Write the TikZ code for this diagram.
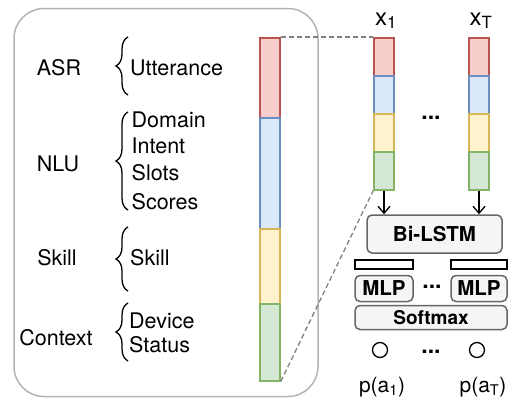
\documentclass[tikz,border=0pt]{standalone}
\usepackage{fontspec}
\setmainfont{TeX Gyre Heros}
\usetikzlibrary{arrows.meta,decorations.pathreplacing}
\definecolor{rfill}{HTML}{F8CECC}\definecolor{rdraw}{HTML}{B85450}
\definecolor{bfill}{HTML}{DAE8FC}\definecolor{bdraw}{HTML}{6C8EBF}
\definecolor{yfill}{HTML}{FFF2CC}\definecolor{ydraw}{HTML}{D6B656}
\definecolor{gfill}{HTML}{D5E8D4}\definecolor{gdraw}{HTML}{82B366}
\definecolor{boxfill}{HTML}{F5F5F5}\definecolor{boxdraw}{HTML}{666666}
\definecolor{outer}{HTML}{B3B3B3}
\begin{document}
\begin{tikzpicture}[x=1pt,y=-1pt,
  seg/.style={minimum width=20pt,inner sep=0pt,line width=1.5pt,anchor=north},
  segr/.style={seg,draw=rdraw,fill=rfill},
  segb/.style={seg,draw=bdraw,fill=bfill},
  segy/.style={seg,draw=ydraw,fill=yfill},
  segg/.style={seg,draw=gdraw,fill=gfill},
  lbl/.style={font=\fontsize{21.5}{24}\selectfont,inner sep=0pt,anchor=base},
  item/.style={font=\fontsize{21.5}{24}\selectfont,inner sep=0pt,anchor=base west},
  brc/.style={decorate,decoration={brace,amplitude=12pt,aspect=0.5},line width=1.3pt},
  gbox/.style={draw=boxdraw,fill=boxfill,line width=1.5pt,rounded corners=5pt,inner sep=0pt,font=\bfseries},
  wbox/.style={draw=black,fill=white,line width=1.5pt,inner sep=0pt,minimum height=9pt},
  dots/.style={font=\fontsize{23}{24}\selectfont\bfseries,inner sep=0pt,anchor=base},
  zoomline/.style={draw=gray,line width=1.3pt,dash pattern=on 5pt off 3pt},
  arr/.style={-{Straight Barb[length=7pt,width=12pt,line width=1.3pt]},line width=1.3pt},
  outc/.style={draw=black,line width=1.3pt,circle,minimum size=15pt,inner sep=0pt},
]
\useasboundingbox (0,0) rectangle (513,399);
% outer box
\node[draw=outer,line width=1.5pt,rounded corners=30pt,minimum width=304pt,minimum height=388pt,inner sep=0pt] (outerbox) at (166,202.5) {};

% big vector
\node[segr,minimum height=80pt] (br) at (270,37) {};
\node[segb,minimum height=111pt] (bb) at (270,117) {};
\node[segy,minimum height=75pt] (by) at (270,228) {};
\node[segg,minimum height=77pt] (bg) at (270,303) {};

% left labels
\node[lbl] (asr) at (59,75) {ASR};
\node[lbl] (nlu) at (58,171.5) {NLU};
\node[lbl] (skl) at (57,265) {Skill};
\node[lbl] (ctx) at (56,345) {Context};

\draw[brc] (128,95) -- (128,37);
\draw[brc] (128,210) -- (128,112);
\draw[brc] (128,291) -- (128,227);
\draw[brc] (128,361) -- (128,303);

\node[item] (utt) at (130,75) {Utterance};
\node[item] (dom) at (131.5,127.5) {Domain};
\node[item] (int) at (131.5,153.5) {Intent};
\node[item] (slo) at (131.5,180.5) {Slots};
\node[item] (sco) at (131.5,209.5) {Scores};
\node[item] (ski) at (130,265) {Skill};
\node[item] (dev) at (129,328) {Device};
\node[item] (sta) at (129,352) {Status};

% x1 vector
\node[segr,minimum height=38pt] (ar) at (384,37) {};
\node[segb,minimum height=38pt] (ab) at (384,75) {};
\node[segy,minimum height=38pt] (ay) at (384,113) {};
\node[segg,minimum height=38pt] (ag) at (384,151) {};
% xT vector
\node[segr,minimum height=38pt] (tr) at (479,37) {};
\node[segb,minimum height=38pt] (tb) at (479,75) {};
\node[segy,minimum height=38pt] (ty) at (479,113) {};
\node[segg,minimum height=38pt] (tg) at (479,151) {};

\node[font=\fontsize{24}{24}\selectfont,inner sep=0pt,anchor=base] (x1) at (386,25) {x\textsubscript{1}};
\node[font=\fontsize{24}{24}\selectfont,inner sep=0pt,anchor=base] (xT) at (481,25) {x\textsubscript{T}};
\node[dots] (d1) at (431,119) {...};

% dashed zoom lines
\draw[zoomline] (br.north east) -- (ar.north west);
\draw[zoomline] (bg.south east) -- (ag.south west);

% Bi-LSTM
\node[gbox,minimum width=135pt,minimum height=38pt,font=\fontsize{20.5}{24}\selectfont\bfseries] (lstm) at (434.5,234) {Bi-LSTM};
\draw[arr] (ag.south) -- (ag.south |- lstm.north);
\draw[arr] (tg.south) -- (tg.south |- lstm.north);

% white boxes
\node[wbox,minimum width=58pt] (w1) at (384,264.5) {};
\node[wbox,minimum width=56pt] (w2) at (479,264.5) {};

% MLPs
\node[gbox,minimum width=58pt,minimum height=26pt,font=\fontsize{20.5}{24}\selectfont\bfseries] (m1) at (384,288.5) {MLP};
\node[gbox,minimum width=56pt,minimum height=26pt,font=\fontsize{20.5}{24}\selectfont\bfseries] (m2) at (479,288.5) {MLP};
\node[dots] (d2) at (432,288) {...};

% Softmax
\node[gbox,minimum width=152pt,minimum height=24pt,font=\fontsize{19}{22}\selectfont\bfseries] (sm) at (431,317.5) {Softmax};

% outputs
\node[outc] (c1) at (380,350) {};
\node[outc] (c2) at (477,350) {};
\node[dots] (d3) at (431,353) {...};
\node[font=\fontsize{21}{24}\selectfont,inner sep=0pt,anchor=base] (p1) at (382,392) {p(a\textsubscript{1})};
\node[font=\fontsize{21}{24}\selectfont,inner sep=0pt,anchor=base] (p2) at (483,392) {p(a\textsubscript{T})};
\end{tikzpicture}
\end{document}
